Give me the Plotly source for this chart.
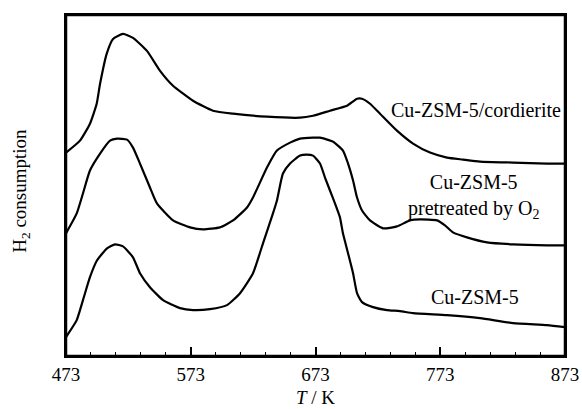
import plotly.graph_objects as go

# Temperatures (K) and relative H2 consumption (arbitrary units)
T_cord = [473, 484.2, 492.2, 497.6, 500.3, 505.6, 510.7, 518.7, 526.7, 537.9, 548.4, 558.8,
          574.8, 590.8, 606.9, 634.1, 660.6, 671.0, 684.6, 698.3, 706.3, 710.3, 716.7, 724.7,
          738.3, 751.2, 764.8, 778.4, 791.2, 804.9, 831.3, 858.6, 873]
H_cord = [204, 216, 233, 253, 273, 303, 318, 323, 319, 306, 286, 271,
          256, 246, 243, 240, 239, 241, 246, 251, 258, 258, 253, 243,
          226, 213, 204, 199, 197, 195, 194, 193, 193]

T_pre = [473, 481.6, 486.6, 492.2, 500.3, 508.3, 513.9, 521.9, 526.7, 532.3, 540.3, 545.9,
         558.8, 572.4, 582.8, 596.4, 606.9, 618.1, 622.9, 634.1, 642.1, 652.6, 660.6, 671.0,
         676.6, 687.0, 695.0, 699.1, 703.1, 706.3, 710.3, 716.7, 727.1, 738.3, 748.8, 756.8,
         770.4, 776.8, 783.2, 794.4, 810.5, 831.3, 858.6, 873]
H_pre = [123, 143, 163, 186, 203, 216, 218, 217, 209, 193, 169, 153,
         136, 129, 127, 129, 136, 149, 159, 189, 206, 214, 218, 219,
         219, 215, 206, 193, 176, 159, 146, 136, 128, 130, 136, 137,
         136, 131, 124, 119, 114, 112, 111, 111]

T_cu = [473, 481.6, 486.6, 492.2, 497.9, 505.9, 512.3, 518.7, 526.7, 532.3, 540.3, 550.8,
        564.4, 574.8, 588.4, 602.1, 612.5, 622.9, 630.9, 638.9, 642.1, 646.9, 652.6, 660.6,
        666.0, 671.0, 676.6, 680.6, 684.6, 688.6, 692.6, 695.0, 699.1, 703.1, 706.3, 710.3,
        719.1, 730.3, 740.7, 751.2, 778.4, 804.9, 831.3, 858.6, 873]
H_cu = [19, 36, 56, 79, 96, 108, 112, 110, 99, 83, 69, 56,
        48, 46, 47, 51, 63, 83, 113, 143, 156, 183, 193, 201,
        202, 201, 193, 179, 166, 153, 139, 123, 103, 83, 63, 54,
        49, 46, 45, 43, 41, 38, 33, 31, 29]

x_ticks = [473, 573, 673, 773, 873]
x_tick_labels = ["473", "573", "673", "773", "873"]

labels = ["Cu-ZSM-5/cordierite", "Cu-ZSM-5<br>pretreated by O<sub>2</sub>", "Cu-ZSM-5"]
label_T = [802, 800, 801]
label_H = [247, 160, 59]

FONT = "Liberation Serif"

fig = go.Figure()
for T, H in [(T_cord, H_cord), (T_pre, H_pre), (T_cu, H_cu)]:
    fig.add_trace(go.Scatter(x=T, y=H, mode="lines", line=dict(color="black", width=2.2, shape="spline", smoothing=0.5),
                             showlegend=False, hoverinfo="skip"))

for txt, tx, hy in zip(labels, label_T, label_H):
    fig.add_annotation(x=tx, y=hy, text=txt, showarrow=False, xref="x", yref="y",
                       font=dict(family=FONT, size=20, color="black"), align="center")

fig.add_annotation(x=-0.09, y=0.485, xref="paper", yref="paper", text="H<sub>2</sub> consumption",
                   xanchor="center", yanchor="middle",
                   textangle=-90, showarrow=False, font=dict(family=FONT, size=19, color="black"))

# plot frame
fig.add_shape(type="rect", xref="paper", yref="paper", x0=0, y0=0, x1=1, y1=1,
              line=dict(color="black", width=2.5), layer="above")

fig.update_layout(
    width=582, height=409,
    margin=dict(l=66, r=17, t=15, b=53),
    paper_bgcolor="white", plot_bgcolor="white",
    font=dict(family=FONT, size=19, color="black"),
)
fig.update_xaxes(range=[473, 873], tickvals=x_ticks, ticktext=x_tick_labels, automargin=False,
                 ticks="inside", ticklen=9, tickwidth=1.5, tickcolor="black",
                 minor=dict(dtick=20, tick0=473, ticks="inside", ticklen=4, tickwidth=1.2, tickcolor="black"),
                 showline=True, linecolor="black", linewidth=2, mirror=True, showgrid=False, zeroline=False,
                 title=dict(text="<i>T</i> / K", standoff=7, font=dict(family=FONT, size=19)),
                 tickfont=dict(family=FONT, size=19))
fig.update_yaxes(range=[0, 342], showticklabels=False, ticks="", showline=True, linecolor="black", automargin=False,
                 linewidth=2, mirror=True, showgrid=False, zeroline=False)

fig.write_html("out.html", config={"displayModeBar": False},
               post_script="document.body.style.margin='0';document.body.style.overflow='hidden';")
